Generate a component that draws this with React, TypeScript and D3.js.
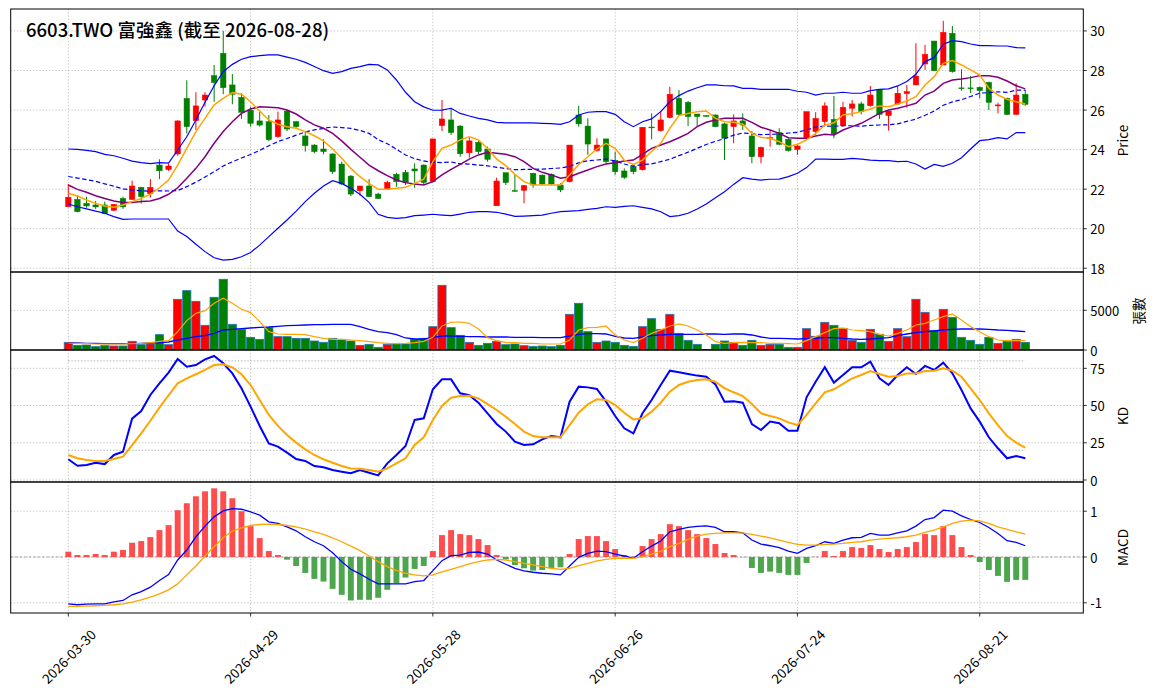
import React from 'react';
import * as d3 from 'd3';

const TITLE = '6603.TWO 富強鑫 (截至 2026-08-28)';

const DATES = [
  '2026-03-30','2026-03-31','2026-04-01','2026-04-02','2026-04-07','2026-04-08','2026-04-09','2026-04-10','2026-04-13','2026-04-14','2026-04-15','2026-04-16','2026-04-17','2026-04-20','2026-04-21','2026-04-22','2026-04-23','2026-04-24','2026-04-27','2026-04-28','2026-04-29','2026-04-30',
  '2026-05-04','2026-05-05','2026-05-06','2026-05-07','2026-05-08','2026-05-11','2026-05-12','2026-05-13','2026-05-14','2026-05-15','2026-05-18','2026-05-19','2026-05-20','2026-05-21','2026-05-22','2026-05-25','2026-05-26','2026-05-27','2026-05-28','2026-05-29',
  '2026-06-01','2026-06-02','2026-06-03','2026-06-04','2026-06-05','2026-06-08','2026-06-09','2026-06-10','2026-06-11','2026-06-12','2026-06-15','2026-06-16','2026-06-17','2026-06-18','2026-06-22','2026-06-23','2026-06-24','2026-06-25','2026-06-26','2026-06-29','2026-06-30',
  '2026-07-01','2026-07-02','2026-07-03','2026-07-06','2026-07-07','2026-07-08','2026-07-09','2026-07-10','2026-07-13','2026-07-14','2026-07-15','2026-07-16','2026-07-17','2026-07-20','2026-07-21','2026-07-22','2026-07-23','2026-07-24','2026-07-27','2026-07-28','2026-07-29','2026-07-30','2026-07-31',
  '2026-08-03','2026-08-04','2026-08-05','2026-08-06','2026-08-07','2026-08-10','2026-08-11','2026-08-12','2026-08-13','2026-08-14','2026-08-17','2026-08-18','2026-08-19','2026-08-20','2026-08-21','2026-08-24','2026-08-25','2026-08-26','2026-08-27','2026-08-28',
];

const X_TICK_INDEX = [0, 20, 40, 60, 80, 100];
const PRICE_TICKS = [18, 20, 22, 24, 26, 28, 30];
const VOL_TICKS = [0, 5000];
const KD_TICKS = [0, 25, 50, 75];
const KD_LEVELS = [20, 80];
const MACD_TICKS = [-1, 0, 1];

const OPEN = [
  21.11,21.48,21.28,21.20,21.20,20.93,21.53,21.48,22.09,21.77,
  23.22,22.99,23.78,26.59,25.46,26.51,27.74,28.87,27.27,26.64,
  25.99,25.45,25.41,24.65,25.95,25.41,24.69,24.23,24.03,23.78,
  23.27,22.66,21.92,22.16,21.75,21.99,22.75,22.85,23.02,23.22,
  22.38,25.21,25.50,25.19,23.84,24.37,24.03,21.16,22.83,21.93,
  21.94,22.80,22.71,22.75,22.21,22.38,25.75,25.19,23.95,24.54,
  23.46,22.92,23.14,22.98,25.14,24.96,25.62,26.59,26.39,25.80,
  25.72,25.75,25.30,25.16,25.45,24.69,23.64,24.55,24.86,24.52,
  24.01,24.60,24.91,25.41,25.53,25.21,26.09,26.31,26.22,27.02,
  25.72,26.31,26.83,27.27,28.33,29.49,28.28,29.88,27.12,27.12,
  27.15,27.40,26.21,26.59,25.78,26.80,
];
const HIGH = [
  22.26,21.70,21.62,21.40,21.37,21.25,21.62,22.43,22.12,22.51,
  23.51,23.29,25.48,27.50,26.90,26.90,28.28,30.00,27.82,26.85,
  26.17,25.92,25.75,25.92,25.99,25.45,24.91,24.27,24.52,23.81,
  23.39,22.71,22.16,22.51,21.82,22.43,22.83,22.97,23.31,23.25,
  24.54,26.51,26.09,25.24,24.60,24.44,24.15,22.58,22.83,22.75,
  22.21,22.83,22.75,22.80,22.30,24.23,26.21,25.58,24.57,24.54,
  23.90,23.05,23.25,25.13,25.83,25.95,27.18,27.01,26.46,25.80,
  25.75,25.78,25.36,25.78,25.83,24.94,24.15,24.99,25.08,24.57,
  24.23,25.92,25.89,26.39,26.71,26.42,26.51,26.42,27.22,27.05,
  25.95,27.22,27.27,29.38,29.29,29.49,30.51,30.25,28.06,27.72,
  27.18,27.44,26.37,26.63,27.35,27.02,
];
const LOW = [
  21.11,20.83,21.06,21.00,20.73,20.90,21.00,21.45,21.27,21.57,
  22.51,22.92,23.69,24.82,24.99,26.17,26.42,26.80,26.29,25.55,
  25.16,25.16,24.43,24.60,24.94,25.10,23.90,23.81,23.76,22.77,
  22.21,21.65,21.67,21.59,21.50,21.96,22.12,22.21,22.07,22.21,
  22.34,24.94,24.74,23.64,23.59,23.78,23.39,21.16,22.21,21.87,
  21.28,22.07,22.21,22.21,21.85,22.34,25.16,23.73,23.90,23.31,
  22.72,22.51,22.75,22.95,24.52,24.91,25.58,25.75,25.19,25.19,
  25.68,25.13,23.47,24.32,24.99,23.31,23.31,24.15,24.23,23.90,
  23.73,24.57,24.74,25.24,24.57,25.16,25.67,25.78,26.17,25.55,
  24.96,26.26,26.12,27.27,28.03,27.99,28.28,27.89,26.98,26.85,
  26.59,26.00,25.83,25.75,25.75,26.22,
];
const CLOSE = [
  21.59,20.86,21.15,21.10,20.76,21.23,21.10,22.16,21.62,22.09,
  22.93,23.17,25.45,25.16,26.21,26.76,27.39,27.13,26.80,25.89,
  25.33,25.24,24.50,25.50,25.04,25.16,24.20,23.90,23.90,22.88,
  22.26,21.75,22.16,21.62,21.53,22.34,22.38,22.34,22.92,22.34,
  24.54,25.55,24.86,23.79,24.44,23.90,23.51,22.41,22.33,21.90,
  22.18,22.21,22.26,22.26,21.96,24.23,25.30,24.28,24.23,23.39,
  22.88,22.60,22.88,25.13,25.10,25.50,26.80,25.78,25.67,25.67,
  25.70,25.16,24.57,25.45,25.24,23.64,24.11,24.60,24.27,23.95,
  24.18,25.92,25.58,26.21,24.79,26.14,26.31,25.92,26.76,25.78,
  25.95,26.85,26.93,27.72,28.82,27.99,29.93,27.94,27.10,27.10,
  26.98,26.39,26.26,25.78,26.76,26.29,
];

const BB_UPPER = [
  24.03,24.01,23.96,23.90,23.76,23.69,23.56,23.42,23.34,23.29,23.34,23.32,23.98,24.65,25.50,26.39,27.23,27.94,28.31,28.57,28.70,28.75,28.79,28.79,28.68,28.57,28.41,28.20,
  27.99,27.86,27.94,28.11,28.20,28.31,28.28,28.03,27.52,26.90,26.42,26.16,25.99,26.00,26.09,25.83,25.70,25.58,25.50,25.38,25.35,25.35,25.35,25.35,25.33,25.31,
  25.28,25.41,25.75,25.89,25.92,25.92,25.78,25.41,25.16,25.41,25.55,25.92,26.42,26.73,26.96,27.13,27.27,27.27,27.23,27.22,27.10,27.10,27.05,27.05,27.05,27.05,26.95,
  26.90,26.76,26.85,26.85,26.90,26.85,26.85,26.98,27.05,27.07,27.22,27.44,27.81,28.45,28.65,29.33,29.51,29.46,29.34,29.26,29.26,29.24,29.24,29.16,29.14,
];
const BB_LOWER = [
  21.25,21.11,21.00,20.89,20.78,20.61,20.47,20.49,20.49,20.49,20.49,20.49,19.88,19.60,19.21,18.84,18.53,18.41,18.45,18.58,18.80,19.17,19.60,20.02,20.44,20.89,21.37,21.79,
  22.16,22.43,22.29,22.04,21.74,21.33,20.73,20.57,20.52,20.56,20.66,20.69,20.73,20.69,20.66,20.74,20.83,20.86,20.86,20.83,20.74,20.62,20.64,20.66,20.69,20.78,
  20.86,20.89,20.91,20.98,21.03,21.11,21.08,21.13,21.16,21.08,21.00,20.86,20.61,20.66,20.78,21.00,21.25,21.57,21.87,22.24,22.58,22.51,22.46,22.50,22.51,22.63,22.80,
  23.09,23.52,23.52,23.51,23.51,23.56,23.52,23.47,23.44,23.44,23.39,23.41,23.27,23.02,23.25,23.15,23.31,23.59,24.03,24.45,24.50,24.60,24.54,24.86,24.86,
];
const MA5 = [
  21.79,21.65,21.45,21.28,21.15,21.08,21.20,21.37,21.53,21.75,22.07,22.46,23.22,24.06,24.91,25.58,26.26,26.59,26.88,26.80,26.42,25.95,25.50,25.28,25.16,25.08,24.91,24.70,
  24.44,24.03,23.56,23.05,22.63,22.29,21.99,21.99,22.04,22.09,22.29,22.51,23.39,24.06,24.23,24.49,24.65,24.49,24.06,23.52,23.19,22.75,22.38,22.21,22.21,22.21,
  22.21,22.72,23.25,23.64,24.03,24.32,24.06,23.47,23.25,23.47,23.90,24.32,25.08,25.72,25.83,25.92,25.95,25.58,25.41,25.38,25.28,24.82,24.62,24.57,24.40,24.15,24.27,
  24.49,24.82,25.24,25.36,25.75,25.83,25.92,26.05,26.21,26.17,26.31,26.46,26.68,27.27,27.69,28.36,28.50,28.28,28.03,27.77,27.10,26.76,26.54,26.42,26.31,
];
const MA10 = [
  22.21,21.99,21.84,21.67,21.53,21.40,21.33,21.33,21.37,21.40,21.53,21.74,22.07,22.55,23.05,23.64,24.32,24.91,25.41,25.83,26.05,26.17,26.14,26.12,26.00,25.80,25.50,25.25,
  25.08,24.82,24.44,24.01,23.61,23.22,22.93,22.68,22.46,22.33,22.26,22.21,22.38,22.72,23.00,23.25,23.52,23.73,23.86,23.81,23.76,23.64,23.39,23.05,22.85,22.72,
  22.55,22.63,22.80,22.97,23.14,23.27,23.34,23.42,23.47,23.76,24.06,24.23,24.40,24.60,24.82,25.16,25.38,25.50,25.58,25.58,25.58,25.38,25.13,24.99,24.82,24.60,24.57,
  24.57,24.69,24.77,24.74,24.99,25.16,25.33,25.58,25.83,26.00,26.09,26.21,26.34,26.76,26.96,27.35,27.52,27.57,27.64,27.74,27.74,27.66,27.47,27.23,27.07,
];

const VOLUME = [
  966,590,630,420,546,504,504,1092,672,756,
  1933,672,6387,7479,6134,3109,6639,8908,3235,2605,
  1597,1345,2815,1681,1681,1471,1471,1134,966,1471,
  1345,1134,588,714,336,714,840,756,1345,1471,
  2941,8151,2815,1849,966,588,840,1092,672,756,
  546,462,500,420,588,4496,5882,2311,966,1134,
  966,588,462,2941,3950,2605,4496,2101,1218,714,
  60,714,1134,966,588,1218,588,714,714,336,
  336,2689,1723,3487,3109,2731,1218,966,2605,1975,
  1092,2689,1681,6387,4748,2479,5126,4118,1597,1218,
  714,1597,840,1092,1345,966,
];
const VOL_MA5 = [
  880,840,800,756,756,756,756,800,840,924,
  1092,1176,2311,3697,4622,4958,5882,6513,5882,5126,
  4706,3571,2311,2017,1975,1975,1933,1681,1471,1345,
  1345,1261,1176,1050,924,840,800,840,924,1092,
  1597,3025,3487,3529,3361,2647,1555,1176,924,924,
  840,840,756,756,756,1261,2521,2815,2857,3025,
  1891,1261,924,1471,2101,2521,3025,3277,3025,2521,
  1891,1050,840,924,966,924,924,840,840,800,
  756,1176,1681,2185,2689,2773,2521,2437,2311,1975,
  1765,2101,2521,3151,3361,3782,4202,4538,3782,2941,
  2311,1681,1261,1176,1176,1176,
];
const VOL_MA20 = [
  924,880,840,840,800,800,800,800,840,880,
  924,1008,1261,1471,1681,1807,2101,2521,2605,2689,
  2773,2857,2899,2983,3067,3109,3151,3193,3193,3235,
  3235,3235,2941,2605,2311,2185,1933,1513,1387,1387,
  1555,1765,1765,1723,1681,1681,1639,1639,1639,1597,
  1597,1597,1555,1555,1555,1765,1975,2059,2059,2017,
  1723,1513,1471,1639,1807,1891,1975,1975,1975,1975,
  2017,2017,1975,2017,2017,1891,1639,1471,1471,1429,
  1387,1429,1471,1555,1555,1471,1387,1345,1387,1471,
  1555,1807,2017,2185,2311,2395,2521,2605,2647,2647,
  2647,2605,2521,2479,2395,2311,
];

const K = [
  13.9,9.6,10.1,11.6,10.7,16.8,19.0,41.2,46.3,57.1,
  64.9,72.1,81.3,76.1,77.2,81.0,83.3,78.4,71.6,61.6,
  49.3,36.3,24.6,22.4,18.4,14.1,12.8,9.4,8.5,6.7,
  5.6,4.5,6.7,4.9,3.1,11.2,16.8,22.8,40.3,41.4,
  60.9,67.6,67.6,58.2,56.9,51.9,44.8,37.6,32.5,25.7,
  23.5,24.0,27.3,29.6,28.7,52.6,62.7,62.2,61.1,52.6,
  43.0,34.7,31.3,44.8,53.7,63.8,73.4,72.3,71.2,70.1,
  69.4,64.2,52.6,52.8,51.9,37.6,33.6,39.2,38.1,33.1,
  33.1,55.5,66.0,75.7,65.4,70.5,75.7,75.7,79.5,68.3,
  63.8,70.5,75.7,71.2,76.6,73.9,78.8,71.6,60.4,48.1,
  39.2,28.7,21.3,14.6,16.1,14.6,
];
const D = [
  16.8,14.6,13.4,12.8,12.8,14.1,15.7,23.5,31.3,39.8,
  48.6,56.9,64.9,68.3,71.0,73.9,77.2,77.7,75.7,71.0,
  63.8,53.7,43.7,36.3,30.2,25.1,20.6,16.8,13.9,11.6,
  9.4,7.8,7.6,6.7,5.6,7.8,11.2,14.6,23.5,28.7,
  40.3,49.7,55.3,56.4,56.6,54.8,51.0,47.0,42.5,37.6,
  32.5,29.5,28.7,28.7,28.7,36.9,45.2,50.8,54.2,53.7,
  50.4,45.2,40.7,41.4,45.9,51.9,59.3,63.8,66.0,67.2,
  67.6,66.0,61.6,58.9,56.4,51.0,44.8,43.0,41.4,38.7,
  36.9,43.7,51.5,58.9,60.9,64.5,68.3,70.5,73.2,71.2,
  69.4,69.8,71.6,71.6,73.2,73.4,75.0,73.4,69.4,61.6,
  53.7,44.8,36.9,29.5,25.1,21.7,
];

const MACD_HIST = [
  0.116,0.043,0.043,0.065,0.043,0.116,0.152,0.312,0.348,0.435,
  0.587,0.696,1.022,1.174,1.326,1.435,1.5,1.435,1.283,1.0,
  0.674,0.413,0.13,0.043,-0.058,-0.196,-0.348,-0.478,-0.536,-0.696,
  -0.826,-0.949,-0.935,-0.935,-0.891,-0.717,-0.572,-0.449,-0.261,-0.196,
  0.13,0.478,0.587,0.5,0.478,0.391,0.261,0.043,-0.051,-0.174,
  -0.246,-0.297,-0.283,-0.246,-0.225,0.065,0.391,0.457,0.457,0.348,
  0.174,0.043,0.01,0.239,0.391,0.5,0.717,0.674,0.587,0.5,
  0.413,0.283,0.087,0.043,-0.005,-0.239,-0.348,-0.319,-0.348,-0.391,
  -0.391,-0.13,0.005,0.13,0.022,0.13,0.217,0.196,0.261,0.174,
  0.109,0.174,0.217,0.326,0.5,0.478,0.674,0.478,0.217,0.043,
  -0.109,-0.283,-0.413,-0.543,-0.5,-0.5,
];
const DIF = [
  -1.022,-1.043,-1.029,-1.022,-1.022,-0.978,-0.949,-0.826,-0.754,-0.659,
  -0.514,-0.384,-0.065,0.152,0.442,0.674,0.877,1.007,1.058,1.043,
  0.986,0.913,0.768,0.732,0.659,0.572,0.442,0.333,0.246,0.094,
  -0.101,-0.268,-0.37,-0.486,-0.587,-0.587,-0.587,-0.587,-0.536,-0.514,
  -0.297,-0.08,0.029,0.043,0.101,0.109,0.065,-0.065,-0.159,-0.246,
  -0.304,-0.333,-0.355,-0.37,-0.391,-0.196,-0.007,0.08,0.13,0.116,
  0.065,0.022,-0.029,0.116,0.239,0.348,0.551,0.601,0.645,0.667,
  0.681,0.645,0.551,0.551,0.529,0.37,0.283,0.246,0.203,0.13,
  0.08,0.188,0.246,0.333,0.297,0.37,0.42,0.428,0.514,0.478,
  0.478,0.529,0.572,0.674,0.819,0.862,1.022,1.0,0.899,0.819,
  0.754,0.645,0.514,0.355,0.319,0.246,
];
const DEA = [
  -1.08,-1.08,-1.072,-1.065,-1.058,-1.043,-1.022,-0.986,-0.935,-0.877,
  -0.804,-0.717,-0.587,-0.391,-0.196,0.022,0.225,0.42,0.565,0.638,
  0.688,0.71,0.717,0.71,0.688,0.659,0.609,0.551,0.493,0.42,
  0.333,0.239,0.138,0.022,-0.101,-0.21,-0.29,-0.355,-0.391,-0.413,
  -0.391,-0.326,-0.268,-0.21,-0.152,-0.101,-0.065,-0.051,-0.065,-0.101,
  -0.138,-0.174,-0.21,-0.246,-0.268,-0.246,-0.188,-0.138,-0.087,-0.051,
  -0.029,-0.022,-0.029,0.007,0.065,0.13,0.225,0.297,0.384,0.457,
  0.5,0.514,0.529,0.529,0.529,0.493,0.457,0.42,0.37,0.319,
  0.275,0.261,0.261,0.275,0.283,0.297,0.319,0.333,0.37,0.391,
  0.406,0.42,0.442,0.478,0.536,0.587,0.659,0.732,0.783,0.804,
  0.79,0.732,0.659,0.601,0.551,0.5,
];

const FONT = '"Noto Sans CJK TC", "Noto Sans", "DejaVu Sans", sans-serif';
const UP = '#ff0000';
const DOWN = '#008000';
const GRID = '#b0b0b0';

const LEFT = 10.7;
const RIGHT = 1083.3;

type Panel = { key: string; top: number; bottom: number; scale: d3.ScaleLinear<number, number>; ticks: number[]; label: string; labelX: number };

export default function App() {
  const n = CLOSE.length;
  const x = d3.scaleLinear().domain([0, n - 1]).range([68.3, 1025.3]);
  const step = x(1) - x(0);

  const yP = d3.scaleLinear().domain([17.81, 31.11]).range([272, 9]);
  const yV = d3.scaleLinear().domain([0, 9824]).range([350, 272]);
  const yK = d3.scaleLinear().domain([-1.34, 87.3]).range([482, 350]);
  const yM = d3.scaleLinear().domain([-1.223, 1.638]).range([613, 482]);

  const panels: Panel[] = [
    { key: 'price', top: 9, bottom: 272, scale: yP, ticks: PRICE_TICKS, label: 'Price', labelX: 1122 },
    { key: 'vol', top: 272, bottom: 350, scale: yV, ticks: VOL_TICKS, label: '張數', labelX: 1138 },
    { key: 'kd', top: 350, bottom: 482, scale: yK, ticks: KD_TICKS, label: 'KD', labelX: 1122 },
    { key: 'macd', top: 482, bottom: 613, scale: yM, ticks: MACD_TICKS, label: 'MACD', labelX: 1122 },
  ];

  const mk = (scale: d3.ScaleLinear<number, number>) => (arr: number[]) =>
    d3.line<number>().x((_, i) => x(i)).y((d) => scale(d))(arr) || '';
  const lineP = mk(yP);
  const lineV = mk(yV);
  const lineK = mk(yK);
  const lineM = mk(yM);

  const bodyW = step * 0.6;
  const volW = step * 0.9;
  const histW = step * 0.65;
  const BB_MID = BB_UPPER.map((u, i) => (u + BB_LOWER[i]) / 2);

  return (
    <svg width={1155} height={698} style={{ position: 'absolute', left: 0, top: 0, background: '#fff' }} fontFamily={FONT}>
      <rect x={0} y={0} width={1155} height={698} fill="#fff" />
      <defs>
        {panels.map((p) => (
          <clipPath id={`clip-${p.key}`} key={p.key}>
            <rect x={LEFT} y={p.top} width={RIGHT - LEFT} height={p.bottom - p.top} />
          </clipPath>
        ))}
      </defs>

      {/* grids */}
      {panels.map((p) => (
        <g key={`grid-${p.key}`}>
          {X_TICK_INDEX.map((i) => (
            <line key={i} x1={x(i)} x2={x(i)} y1={p.top} y2={p.bottom} stroke={GRID} strokeWidth={0.8} strokeDasharray="1.2 2" />
          ))}
          {p.ticks.map((t) => (
            <line key={t} x1={LEFT} x2={RIGHT} y1={p.scale(t)} y2={p.scale(t)} stroke={GRID} strokeWidth={0.8} strokeDasharray="1.2 2" />
          ))}
        </g>
      ))}

      {/* price panel */}
      <g clipPath="url(#clip-price)">
        {CLOSE.map((c, i) => {
          const o = OPEN[i];
          const up = c >= o;
          const col = up ? UP : DOWN;
          const yTop = yP(Math.max(o, c));
          const yBot = yP(Math.min(o, c));
          return (
            <g key={i}>
              <line x1={x(i)} x2={x(i)} y1={yP(HIGH[i])} y2={yP(LOW[i])} stroke={col} strokeWidth={1} />
              <rect x={x(i) - bodyW / 2} y={yTop} width={bodyW} height={Math.max(yBot - yTop, 0.8)} fill={col} stroke={col} strokeWidth={0.5} />
            </g>
          );
        })}
        <path d={lineP(BB_UPPER)} fill="none" stroke="#0000ff" strokeWidth={1.2} />
        <path d={lineP(BB_LOWER)} fill="none" stroke="#0000ff" strokeWidth={1.2} />
        <path d={lineP(BB_MID)} fill="none" stroke="#0000ff" strokeWidth={1.2} strokeDasharray="4.5 2.5" />
        <path d={lineP(MA10)} fill="none" stroke="#800080" strokeWidth={1.5} />
        <path d={lineP(MA5)} fill="none" stroke="#ffa500" strokeWidth={1.5} />
      </g>

      {/* volume panel */}
      <g clipPath="url(#clip-vol)">
        {VOLUME.map((v, i) => {
          const up = CLOSE[i] >= OPEN[i];
          return (
            <rect key={i} x={x(i) - volW / 2} y={yV(v)} width={volW} height={yV(0) - yV(v)} fill={up ? UP : DOWN} stroke="#1f77b4" strokeWidth={0.8} />
          );
        })}
        <path d={lineV(VOL_MA20)} fill="none" stroke="#0000ff" strokeWidth={1.3} />
        <path d={lineV(VOL_MA5)} fill="none" stroke="#ffa500" strokeWidth={1.2} />
      </g>

      {/* KD panel */}
      <g clipPath="url(#clip-kd)">
        {KD_LEVELS.map((lv) => (
          <line key={lv} x1={x(0)} x2={x(n - 1)} y1={yK(lv)} y2={yK(lv)} stroke="#999" strokeWidth={0.9} strokeDasharray="1.2 2" />
        ))}
        <path d={lineK(K)} fill="none" stroke="#0000ff" strokeWidth={2} />
        <path d={lineK(D)} fill="none" stroke="#ffa500" strokeWidth={2} />
      </g>

      {/* MACD panel */}
      <g clipPath="url(#clip-macd)">
        <line x1={LEFT} x2={RIGHT} y1={yM(0)} y2={yM(0)} stroke="#999" strokeWidth={0.9} strokeDasharray="2.5 2" />
        {MACD_HIST.map((h, i) => (
          <rect key={i} x={x(i) - histW / 2} y={Math.min(yM(h), yM(0))} width={histW} height={Math.abs(yM(h) - yM(0))} fill={h >= 0 ? 'rgb(255,77,77)' : 'rgb(77,166,77)'} />
        ))}
        <path d={lineM(DIF)} fill="none" stroke="#0000ff" strokeWidth={1.3} />
        <path d={lineM(DEA)} fill="none" stroke="#ffa500" strokeWidth={1.3} />
      </g>

      {/* frames, ticks, labels */}
      {panels.map((p) => (
        <g key={`axis-${p.key}`}>
          <rect x={LEFT} y={p.top} width={RIGHT - LEFT} height={p.bottom - p.top} fill="none" stroke="#000" strokeWidth={1} />
          {p.ticks.map((t) => (
            <g key={t}>
              <line x1={RIGHT} x2={RIGHT + 3.5} y1={p.scale(t)} y2={p.scale(t)} stroke="#000" strokeWidth={0.8} />
              <text x={RIGHT + 7} y={p.scale(t)} dominantBaseline="central" fontSize={13} fill="#000">{String(t)}</text>
            </g>
          ))}
          <text transform={`translate(${p.labelX},${(p.top + p.bottom) / 2}) rotate(-90)`} textAnchor="middle" dominantBaseline="central" fontSize={13.5} fill="#000">{p.label}</text>
        </g>
      ))}

      {X_TICK_INDEX.map((i) => (
        <g key={`xt-${i}`}>
          <line x1={x(i)} x2={x(i)} y1={613} y2={616.5} stroke="#000" strokeWidth={0.8} />
          <text transform={`translate(${x(i)},656) rotate(-45)`} textAnchor="middle" dominantBaseline="central" fontSize={13.5} fill="#000">{DATES[i]}</text>
        </g>
      ))}

      <text x={26} y={37} fontSize={18.5} fontWeight={500} fill="#000">{TITLE}</text>
    </svg>
  );
}
